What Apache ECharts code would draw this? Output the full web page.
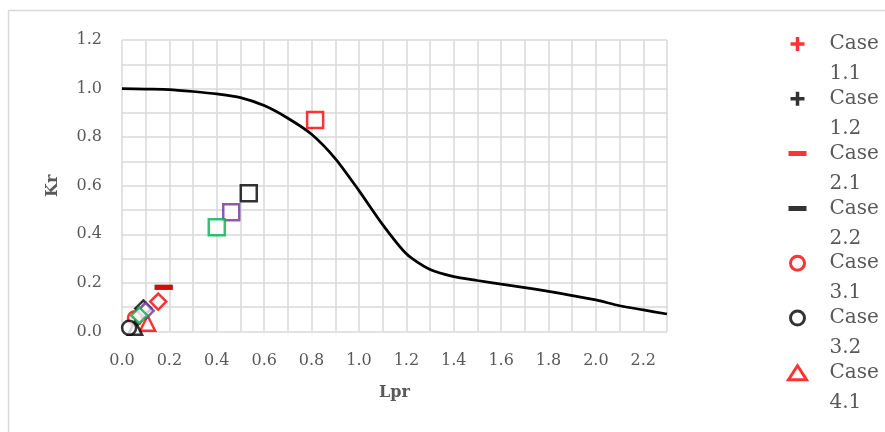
<!DOCTYPE html>
<html>
<head>
<meta charset="utf-8">
<script src="https://cdn.jsdelivr.net/npm/echarts@6/dist/echarts.min.js"></script>
<style>html,body{margin:0;padding:0;background:#fff}#c{width:885px;height:432px}</style>
</head>
<body>
<div id="c"></div>
<script>
// Reference curve
const curveLpr = [0.0,0.1,0.2,0.3,0.4,0.5,0.6,0.7,0.8,0.9,1.0,1.1,1.2,1.3,1.4,1.5,1.6,1.7,1.8,1.9,2.0,2.1,2.2,2.3];
const curveKr  = [1.0,0.998,0.996,0.988,0.978,0.963,0.93,0.878,0.812,0.712,0.58,0.44,0.32,0.255,0.226,0.21,0.195,0.181,0.165,0.148,0.13,0.106,0.089,0.072];

// Cases
const caseNames = ['Case 1.1','Case 1.2','Case 2.1','Case 2.2','Case 3.1','Case 3.2','Case 4.1','Case 4.2','Case 5.1','Case 5.2','Case 5.3','Case 5.4','Case 6.1','Case 6.2','Case 6.3','Case 6.4'];
const caseLpr = [0.07,0.09,0.176,0.176,0.055,0.03,0.108,0.055,0.153,0.09,0.1,0.073,0.815,0.535,0.461,0.40];
const caseKr  = [0.06,0.09,0.182,0.182,0.055,0.015,0.034,0.015,0.123,0.095,0.085,0.066,0.871,0.569,0.491,0.429];
const legendNames = ['Case 1.1','Case 1.2','Case 2.1','Case 2.2','Case 3.1','Case 3.2','Case 4.1'];

// Axis
const xMin = 0, xMax = 2.3, yMin = 0, yMax = 1.2, step = 0.1;

// Styles
const PLUS = 'path://M6,0h4v6h6v4h-6v6h-4v-6h-6v-4h6z';
const DASH_ICON = 'path://M0,0h0.01v0.01h-0.01z M17.99,13.99h0.01v0.01h-0.01z M0,4.5h18v5h-18z';
const RED = '#ff0000', BLK = '#000000', PUR = '#7030a0', GRN = '#00b050';
const caseStyle = [
  {sym: PLUS, size: 16, color: RED, filled: true, z: 1},
  {sym: PLUS, size: 16, color: BLK, filled: true, z: 1},
  {sym: 'rect', size: [18,5], color: RED, filled: true, z: 4},
  {sym: 'rect', size: [18,5], color: BLK, filled: true, z: 1},
  {sym: 'circle', size: 14, color: RED, z: 1},
  {sym: 'circle', size: 14, color: BLK, z: 3},
  {sym: 'triangle', size: 15, color: RED, z: 2},
  {sym: 'triangle', size: 14, color: BLK, z: 2},
  {sym: 'diamond', size: 16, color: RED, z: 2},
  {sym: 'diamond', size: 16, color: BLK, z: 2},
  {sym: 'diamond', size: 16, color: PUR, z: 3},
  {sym: 'diamond', size: 16, color: GRN, z: 4},
  {sym: 'rect', size: 16, color: RED, z: 2},
  {sym: 'rect', size: 16, color: BLK, z: 2},
  {sym: 'rect', size: 16, color: PUR, z: 2},
  {sym: 'rect', size: 16, color: GRN, z: 2}
];

const TXT = '#595959';
const FONT = 'DejaVu Serif';
const fmt = v => (Math.round(v * 10) % 2 === 0) ? v.toFixed(1) : '';

const series = [{
  type: 'line', name: 'curve', data: curveLpr.map((x, i) => [x, curveKr[i]]),
  showSymbol: false, symbol: 'none', smooth: 0.25,
  lineStyle: {color: '#000', width: 2.75}, z: 1, silent: true
}];
caseNames.forEach((n, i) => {
  const s = caseStyle[i];
  series.push({
    type: 'scatter', name: n, data: [[caseLpr[i], caseKr[i]]],
    symbol: s.sym, symbolSize: s.size, z: s.z + 1,
    itemStyle: s.filled ? {color: s.color} : {color: '#ffffff', borderColor: s.color, borderWidth: 2.5}
  });
});

const legendData = legendNames.map(n => {
  const s = caseStyle[caseNames.indexOf(n)];
  if (s.sym === 'rect' && Array.isArray(s.size)) return {name: n, icon: DASH_ICON};
  if (!s.filled) return {name: n, itemStyle: {borderWidth: 3}};
  return {name: n};
});

const chart = echarts.init(document.getElementById('c'), null, {renderer: 'canvas'});
chart.setOption({
  animation: false,
  backgroundColor: '#fff',
  graphic: [{type: 'rect', shape: {x: 8.5, y: 10.5, width: 1000, height: 1000},
    style: {fill: 'none', stroke: '#d9d9d9', lineWidth: 1.5}, silent: true}],
  grid: {left: 122, right: 218, top: 40, bottom: 100.5},
  xAxis: {
    type: 'value', min: xMin, max: xMax, interval: step,
    name: 'Lpr', nameLocation: 'middle', nameGap: 53,
    nameTextStyle: {color: TXT, fontFamily: FONT, fontWeight: 'bold', fontSize: 16},
    axisLine: {show: false}, axisTick: {show: false},
    axisLabel: {formatter: fmt, color: TXT, fontFamily: FONT, fontSize: 16, margin: 21, showMaxLabel: false},
    splitLine: {show: true, lineStyle: {color: '#d9d9d9', width: 1.5}}
  },
  yAxis: {
    type: 'value', min: yMin, max: yMax, interval: step,
    name: 'Kr', nameLocation: 'middle', nameGap: 61,
    nameTextStyle: {color: TXT, fontFamily: FONT, fontWeight: 'bold', fontSize: 16},
    axisLine: {show: false}, axisTick: {show: false},
    axisLabel: {formatter: fmt, color: TXT, fontFamily: FONT, fontSize: 16, margin: 20},
    splitLine: {show: true, lineStyle: {color: '#d9d9d9', width: 1.5}}
  },
  legend: {
    orient: 'vertical', left: 787, top: -1, padding: 0,
    itemWidth: 18, itemHeight: 14, itemGap: -35.2,
    data: legendData, selectedMode: false,
    formatter: n => '\n' + n.replace(' ', '\n'),
    textStyle: {color: TXT, fontFamily: FONT, fontSize: 20, lineHeight: 30,
      padding: [0, 0, 0, 18], backgroundColor: 'rgba(0,0,0,0)'}
  },
  series: series
});
</script>
</body>
</html>
